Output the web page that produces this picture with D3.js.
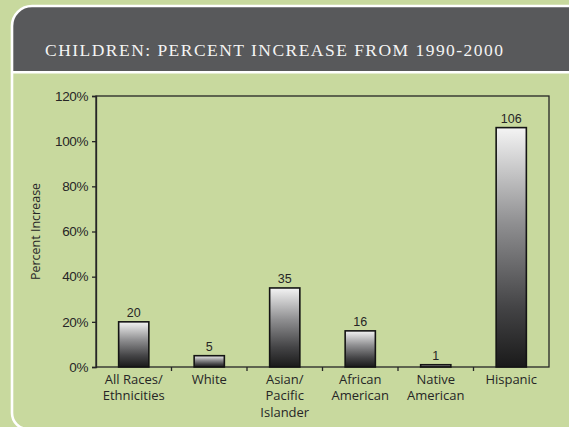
<!DOCTYPE html>
<html>
<head>
<meta charset="utf-8">
<script src="https://cdn.jsdelivr.net/npm/d3@7"></script>
<style>
  html, body { margin: 0; padding: 0; background: #c8d99e; }
  svg { display: block; }
</style>
</head>
<body>
<svg id="chart" width="569" height="427"></svg>
<script>
// Percent increase in number of children, 1990-2000, by race/ethnicity
const categories = [
  ["All Races/", "Ethnicities"],
  ["White"],
  ["Asian/", "Pacific", "Islander"],
  ["African", "American"],
  ["Native", "American"],
  ["Hispanic"]
];
const values = [20, 5, 35, 16, 1, 106];
const yTicks = [0, 20, 40, 60, 80, 100, 120];
const title = "CHILDREN: PERCENT INCREASE FROM 1990-2000";
const yLabel = "Percent Increase";

const W = 569, H = 427;
const svg = d3.select("#chart");
const green = "#c8d99e";
const ink = "#262626";

// Background and framed panel
svg.append("rect").attr("width", W).attr("height", H).attr("fill", green);

const px = 12, py = 6, rTop = 20, rBot = 16;
const panel = `M${px},${py + rTop} A${rTop},${rTop} 0 0 1 ${px + rTop},${py} L${W + 10},${py} L${W + 10},${H + 2} L${px + rBot},${H + 2} A${rBot},${rBot} 0 0 1 ${px},${H + 2 - rBot} Z`;

// Header band clipped to the panel shape
const defs = svg.append("defs");
defs.append("clipPath").attr("id", "panelClip").append("path").attr("d", panel);
svg.append("path").attr("d", panel).attr("fill", green);
svg.append("rect")
  .attr("clip-path", "url(#panelClip)")
  .attr("x", 0).attr("y", 0).attr("width", W + 20).attr("height", 71.5)
  .attr("fill", "#58595b");
svg.append("line")
  .attr("x1", px).attr("x2", W + 10).attr("y1", 72.3).attr("y2", 72.3)
  .attr("stroke", "#ffffff").attr("stroke-width", 2.5);
svg.append("path").attr("d", panel)
  .attr("fill", "none").attr("stroke", "#ffffff").attr("stroke-width", 2.6);

svg.append("text")
  .attr("x", 45).attr("y", 55.5)
  .attr("font-family", "'Liberation Serif', 'DejaVu Serif', serif")
  .attr("font-size", 17.5)
  .attr("fill", "#f4f4f4")
  .attr("textLength", 458).attr("lengthAdjust", "spacing")
  .text(title);

// Plot area
const plotLeft = 96, plotRight = 549, plotTop = 96, plotBottom = 367;

const x = d3.scaleBand()
  .domain(d3.range(categories.length))
  .range([plotLeft, plotRight])
  .paddingInner(0.6)
  .paddingOuter(0.3);

const y = d3.scaleLinear().domain([0, 120]).range([plotBottom, plotTop]);

// Bar gradient: light at top, near-black at base
const grad = defs.append("linearGradient")
  .attr("id", "barGrad")
  .attr("x1", 0).attr("y1", 0).attr("x2", 0).attr("y2", 1);
grad.append("stop").attr("offset", "0%").attr("stop-color", "#f4f4f4");
grad.append("stop").attr("offset", "40%").attr("stop-color", "#8f8f91");
grad.append("stop").attr("offset", "75%").attr("stop-color", "#444446");
grad.append("stop").attr("offset", "100%").attr("stop-color", "#1a1a1a");

// Frame around the plot
svg.append("rect")
  .attr("x", plotLeft).attr("y", plotTop)
  .attr("width", plotRight - plotLeft).attr("height", plotBottom - plotTop)
  .attr("fill", "none").attr("stroke", ink).attr("stroke-width", 1.3);

// Y axis
const yAxis = svg.append("g")
  .attr("transform", `translate(${plotLeft},0)`)
  .call(d3.axisLeft(y).tickValues(yTicks).tickFormat(d => d + "%").tickSize(4).tickPadding(4));
yAxis.select(".domain").attr("stroke", ink).attr("stroke-width", 1.3);
yAxis.selectAll(".tick line").attr("stroke", ink).attr("stroke-width", 1.3);
yAxis.selectAll(".tick text")
  .attr("font-family", "'Liberation Sans', Arial, sans-serif")
  .attr("font-size", 13.5)
  .attr("letter-spacing", -0.4)
  .attr("fill", ink);

// Category boundary ticks on the baseline
const bounds = d3.range(1, categories.length).map(i => x(i) - x.step() * x.paddingInner() / 2);
svg.append("g").selectAll("line").data(bounds).join("line")
  .attr("x1", d => d).attr("x2", d => d)
  .attr("y1", plotBottom).attr("y2", plotBottom + 4)
  .attr("stroke", ink).attr("stroke-width", 1.3);

// Bars
svg.append("g").selectAll("rect").data(values).join("rect")
  .attr("x", (d, i) => x(i))
  .attr("y", d => y(d))
  .attr("width", x.bandwidth())
  .attr("height", d => y(0) - y(d))
  .attr("fill", "url(#barGrad)")
  .attr("stroke", "#141414")
  .attr("stroke-width", 1.6);

// Value labels
svg.append("g").selectAll("text").data(values).join("text")
  .attr("x", (d, i) => x(i) + x.bandwidth() / 2)
  .attr("y", d => y(d) - 5)
  .attr("text-anchor", "middle")
  .attr("font-family", "'Liberation Sans', Arial, sans-serif")
  .attr("font-size", 12.5)
  .attr("fill", ink)
  .text(d => d);

// Category labels
const catG = svg.append("g").selectAll("text").data(categories).join("text")
  .attr("text-anchor", "middle")
  .attr("font-family", "'Open Sans', 'Noto Sans', sans-serif")
  .attr("font-size", 13)
  .attr("fill", ink);
catG.selectAll("tspan").data((d, i) => d.map(line => ({ line, i }))).join("tspan")
  .attr("x", d => x(d.i) + x.bandwidth() / 2)
  .attr("y", (d, j) => 384 + j * 16.4)
  .text(d => d.line);

// Y axis title
svg.append("text")
  .attr("transform", `translate(40,${(plotTop + plotBottom) / 2}) rotate(-90)`)
  .attr("text-anchor", "middle")
  .attr("font-family", "'Open Sans', 'Noto Sans', sans-serif")
  .attr("font-size", 12.5)
  .attr("fill", ink)
  .text(yLabel);
</script>
</body>
</html>
